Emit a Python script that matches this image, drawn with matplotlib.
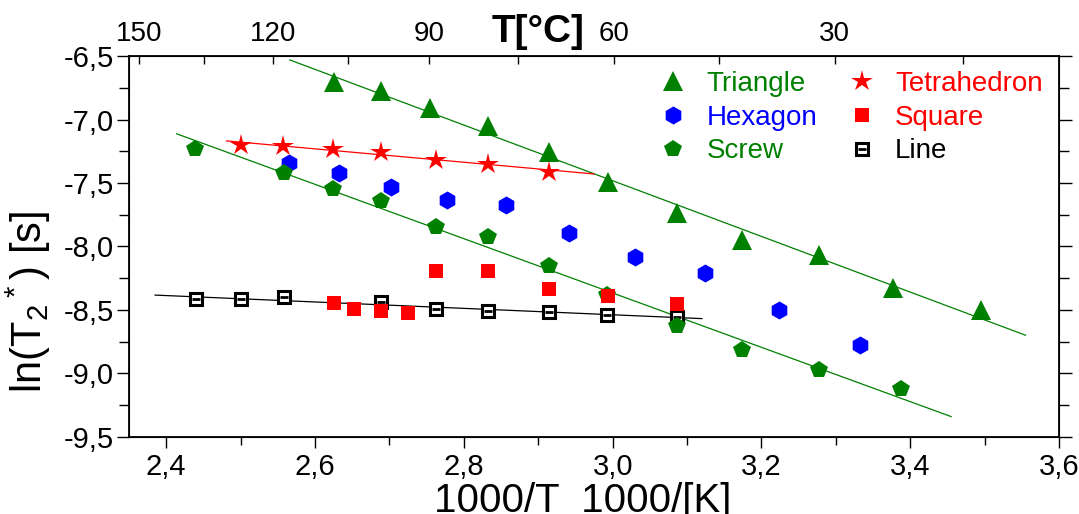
import numpy as np
import matplotlib
matplotlib.use("Agg")
import matplotlib.pyplot as plt
from matplotlib.ticker import FuncFormatter, MultipleLocator, FixedLocator
from matplotlib.legend_handler import HandlerTuple
from matplotlib import font_manager

#fonts
names = set(f.name for f in font_manager.fontManager.ttflist)
base_font = "Liberation Sans" if "Liberation Sans" in names else "DejaVu Sans"
plt.rcParams['font.family'] = [base_font, 'DejaVu Sans']
plt.rcParams['mathtext.fontset'] = 'custom'
plt.rcParams['mathtext.rm'] = base_font
plt.rcParams['mathtext.default'] = 'regular'
plt.rcParams['axes.unicode_minus'] = False

#data (x = 1000/T, y = ln(T2*))
tri_x = [2.625, 2.688, 2.754, 2.832, 2.915, 2.994, 3.086, 3.174, 3.277, 3.377, 3.495]
tri_y = [-6.705, -6.776, -6.910, -7.050, -7.255, -7.489, -7.738, -7.949, -8.069, -8.330, -8.501]

hex_x = [2.565, 2.632, 2.702, 2.778, 2.857, 2.941, 3.030, 3.124, 3.224, 3.332]
hex_y = [-7.344, -7.423, -7.528, -7.633, -7.673, -7.891, -8.080, -8.207, -8.501, -8.777]

scr_x = [2.439, 2.558, 2.624, 2.688, 2.762, 2.832, 2.914, 2.993, 3.086, 3.174, 3.277, 3.388]
scr_y = [-7.233, -7.418, -7.547, -7.639, -7.849, -7.928, -8.151, -8.383, -8.627, -8.816, -8.974, -9.126]

tet_x = [2.500, 2.557, 2.624, 2.688, 2.762, 2.832, 2.915]
tet_y = [-7.200, -7.205, -7.231, -7.252, -7.318, -7.352, -7.410]

sq_x = [2.625, 2.653, 2.688, 2.725, 2.763, 2.833, 2.915, 2.994, 3.086]
sq_y = [-8.448, -8.495, -8.506, -8.522, -8.191, -8.193, -8.338, -8.390, -8.454]

line_x = [2.440, 2.500, 2.558, 2.689, 2.762, 2.833, 2.915, 2.993, 3.086]
line_y = [-8.416, -8.414, -8.401, -8.440, -8.495, -8.506, -8.519, -8.540, -8.554]

#x ranges of the linear fits
tri_fit = [2.566, 3.555]
scr_fit = [2.414, 3.455]
tet_fit = [2.481, 2.975]
line_fit = [2.385, 3.120]

#top axis temperatures in C
top_major = [150, 120, 90, 60, 30]
top_minor = [135, 105, 75, 45, 15]

green = '#008000'
red = '#ff0000'
blue = '#0000ff'

fig = plt.figure(figsize=(10.79, 5.14), dpi=100)
ax = fig.add_axes([0.1196, 0.1504, 0.8619, 0.7401])

#fit lines
def fit_line(x, y, rng, color):
    k, b = np.polyfit(x, y, 1)
    xx = np.array(rng)
    ax.plot(xx, k * xx + b, color=color, lw=0.9, zorder=1)

fit_line(tri_x, tri_y, tri_fit, green)
fit_line(scr_x, scr_y, scr_fit, green)
fit_line(tet_x, tet_y, tet_fit, red)
fit_line(line_x, line_y, line_fit, 'black')

#markers
h_line_sq, = ax.plot(line_x, line_y, 's', ms=8, mfc='white', mec='black', mew=2.2, zorder=2)
h_line_dash, = ax.plot(line_x, line_y, '_', ms=6, mec='black', mew=2.0, zorder=2)
h_tri, = ax.plot(tri_x, tri_y, '^', ms=14, color=green, mew=0, zorder=3)
h_hex, = ax.plot(hex_x, hex_y, 'h', ms=13, color=blue, mew=0, zorder=3)
h_scr, = ax.plot(scr_x, scr_y, 'p', ms=13, color=green, mew=0, zorder=3)
h_tet, = ax.plot(tet_x, tet_y, '*', ms=16, color=red, mew=0, zorder=3)
h_sq, = ax.plot(sq_x, sq_y, 's', ms=9.5, color=red, mew=0, zorder=4)

#axes
ax.set_xlim(2.35, 3.6)
ax.set_ylim(-9.5, -6.5)
ax.xaxis.set_major_locator(MultipleLocator(0.2))
ax.xaxis.set_minor_locator(MultipleLocator(0.1))
ax.yaxis.set_major_locator(MultipleLocator(0.5))
ax.yaxis.set_minor_locator(MultipleLocator(0.25))
comma = FuncFormatter(lambda v, p: ('%.1f' % v).replace('.', ','))
ax.xaxis.set_major_formatter(comma)
ax.yaxis.set_major_formatter(comma)
ax.tick_params(axis='x', which='major', direction='out', length=8, width=1, pad=4, labelsize=21)
ax.tick_params(axis='x', which='minor', direction='out', length=6, width=1)
ax.tick_params(axis='y', which='major', direction='out', length=9, width=1, pad=2, labelsize=21,
               right=True)
ax.tick_params(axis='y', which='minor', direction='out', length=7, width=1, right=True)
ax.tick_params(axis='x', which='both', top=False)
for s in ax.spines.values():
    s.set_linewidth(1.3)

ax.set_xlabel('1000/T  1000/[K]', fontsize=29)
ax.xaxis.set_label_coords(0.488, -0.118)
ax.set_ylabel('ln(T$_2$$^*$) [s]', fontsize=30)
ax.yaxis.set_label_coords(-0.082, 0.355)

#top temperature axis
ax2 = ax.twiny()
ax2.set_xlim(ax.get_xlim())
ax2.xaxis.set_major_locator(FixedLocator([1000.0 / (t + 273.15) for t in top_major]))
ax2.xaxis.set_minor_locator(FixedLocator([1000.0 / (t + 273.15) for t in top_minor]))
ax2.set_xticklabels([str(t) for t in top_major])
ax2.tick_params(axis='x', which='major', direction='in', length=6, width=1, pad=7, labelsize=20)
ax2.tick_params(axis='x', which='minor', direction='in', length=6, width=1)
fig.text(0.4986, 0.938, 'T[°C]', fontsize=28, fontweight='bold', ha='center', va='center')

#legend
handles = [h_tri, h_hex, h_scr, h_tet, h_sq, (h_line_sq, h_line_dash)]
labels = ['Triangle', 'Hexagon', 'Screw', 'Tetrahedron', 'Square', 'Line']
colors = [green, blue, green, red, red, 'black']
leg = ax.legend(handles, labels, ncol=2, frameon=False, loc='upper left',
                bbox_to_anchor=(0.570, 0.962), borderpad=0, borderaxespad=0,
                handlelength=1.0, handletextpad=0.7, columnspacing=1.1,
                labelspacing=0.28, fontsize=20,
                handler_map={tuple: HandlerTuple(ndivide=1, pad=0)})
for t, c in zip(leg.get_texts(), colors):
    t.set_color(c)

fig.savefig('out.png', dpi=100)
